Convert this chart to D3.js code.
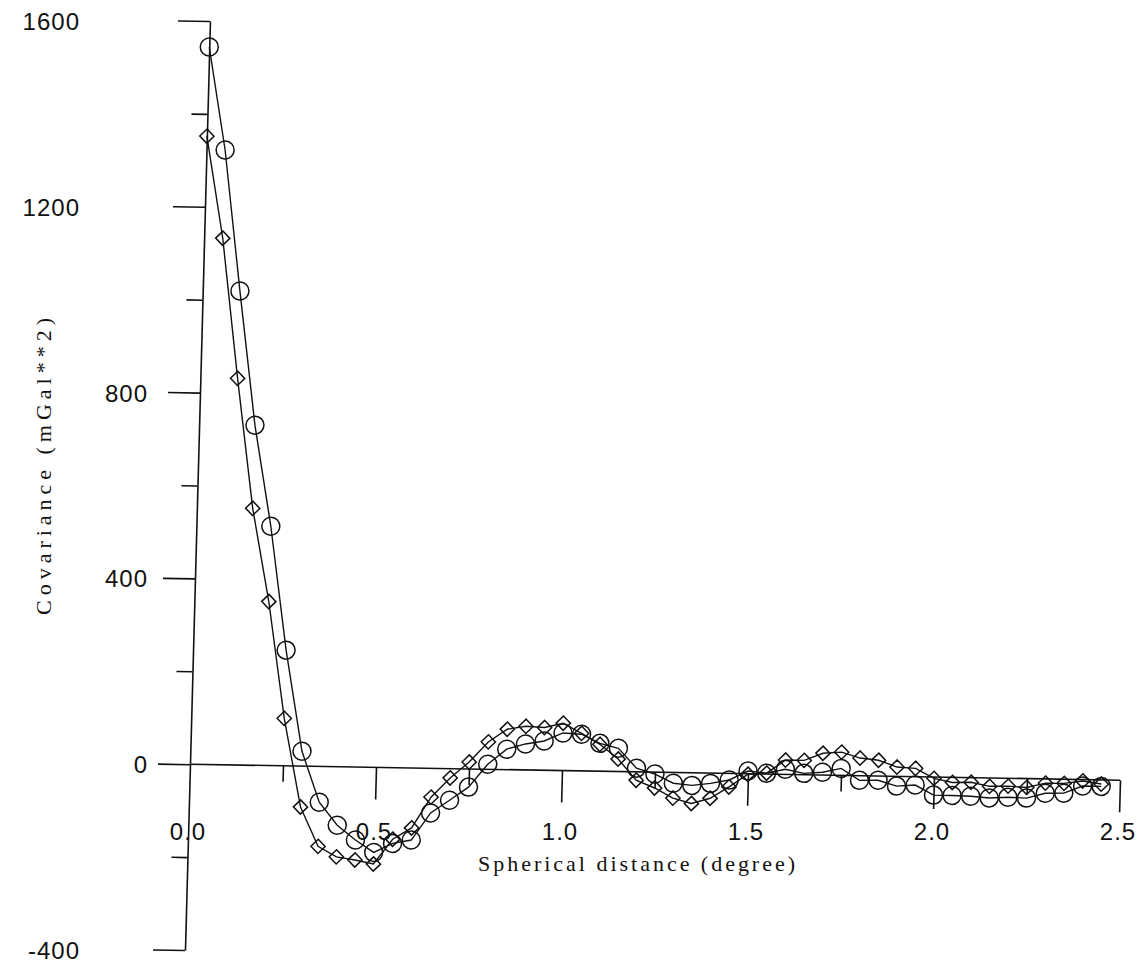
<!DOCTYPE html>
<html>
<head>
<meta charset="utf-8">
<script src="https://cdn.jsdelivr.net/npm/d3@7"></script>
<style>
  body { margin: 0; background: #fff; }
  .tick-label { font-family: "Liberation Sans", Arial, sans-serif; font-size: 24px; letter-spacing: 1px; fill: #111; }
  .title { font-family: "Liberation Serif", "Times New Roman", serif; font-size: 22px; fill: #111; }
</style>
</head>
<body>
<div id="chart"></div>
<script>
// spherical distance (degree)
var distance = [0.00, 0.05, 0.10, 0.15, 0.20, 0.25, 0.30, 0.35, 0.40, 0.45,
                0.50, 0.55, 0.60, 0.65, 0.70, 0.75, 0.80, 0.85, 0.90, 0.95,
                1.00, 1.05, 1.10, 1.15, 1.20, 1.25, 1.30, 1.35, 1.40, 1.45,
                1.50, 1.55, 1.60, 1.65, 1.70, 1.75, 1.80, 1.85, 1.90, 1.95,
                2.00, 2.05, 2.10, 2.15, 2.20, 2.25, 2.30, 2.35, 2.40, 2.45];

// circles
var covCircle = [1544, 1323, 1020, 732, 515, 249, 32, -77, -126, -157,
                 -183, -163, -155, -96, -68, -39, 11, 44, 56, 63,
                 81, 79, 60, 50, 8, -4, -23, -27, -22, -14,
                 6, 2, 11, 3, 6, 15, -10, -9, -21, -18,
                 -39, -39, -40, -43, -41, -42, -31, -30, -14, -14];

// diamonds
var covDiamond = [1352, 1133, 832, 553, 353, 102, -88, -172, -194, -200,
                  -208, -154, -129, -62, -20, 15, 59, 87, 94, 92,
                  102, 81, 58, 27, -18, -34, -55, -66, -54, -29,
                  -1, 2, 31, 31, 47, 50, 38, 34, 20, 18,
                  -3, -11, -10, -18, -17, -19, -9, -9, -3, -9];

var xMajor = [0.5, 1.0, 1.5, 2.0, 2.5];
var xMinor = [0.25, 0.75, 1.25, 1.75, 2.25];
var xLabels = [0.0, 0.5, 1.0, 1.5, 2.0, 2.5];
var yMajor = [-400, 0, 400, 800, 1200, 1600];
var yMinor = [-200, 200, 600, 1000, 1400];

var W = 1143, H = 977;
// the scanned plot is slightly skewed
var m = {a: 1, b: 0.0172, c: -0.0269, d: 1, e: 190, f: 764};
function project(u, v) {
    return [m.a * u + m.c * v + m.e, m.b * u + m.d * v + m.f];
}

var svg = d3.select("#chart").append("svg")
    .attr("width", W)
    .attr("height", H);
svg.append("rect").attr("width", W).attr("height", H).attr("fill", "#fff");

var x = d3.scaleLinear().domain([0, 2.5]).range([0, 930]);
var y = d3.scaleLinear().domain([-400, 1600]).range([186, -743]);

var g = svg.append("g")
    .attr("transform", "matrix(" + [m.a, m.b, m.c, m.d, m.e, m.f].join(",") + ")");

// zero line
g.append("line")
    .attr("x1", x(0)).attr("x2", x(2.5))
    .attr("y1", y(0)).attr("y2", y(0))
    .attr("stroke", "#111").attr("stroke-width", 1.6);

// x ticks (hang below the zero line)
g.append("g").attr("transform", "translate(0," + y(0) + ")")
    .call(d3.axisBottom(x).tickValues(xMajor).tickSize(32).tickSizeOuter(0).tickFormat(""))
    .call(function (s) { s.select(".domain").remove(); });
g.append("g").attr("transform", "translate(0," + y(0) + ")")
    .call(d3.axisBottom(x).tickValues(xMinor).tickSize(16).tickSizeOuter(0).tickFormat(""))
    .call(function (s) { s.select(".domain").remove(); });

// y axis
g.append("g")
    .call(d3.axisLeft(y).tickValues(yMajor).tickSize(32).tickSizeOuter(0).tickFormat(""));
g.append("g")
    .call(d3.axisLeft(y).tickValues(yMinor).tickSize(16).tickSizeOuter(0).tickFormat(""))
    .call(function (s) { s.select(".domain").remove(); });

g.selectAll(".tick line, .domain").attr("stroke", "#111").attr("stroke-width", 1.6);

// series
var line = d3.line()
    .x(function (d) { return x(d[0]); })
    .y(function (d) { return y(d[1]); });

var circData = distance.map(function (d, i) { return [d, covCircle[i]]; });
var diamData = distance.map(function (d, i) { return [d, covDiamond[i]]; });

g.append("path").datum(circData).attr("d", line)
    .attr("fill", "none").attr("stroke", "#111").attr("stroke-width", 1.4);
g.append("path").datum(diamData).attr("d", line)
    .attr("fill", "none").attr("stroke", "#111").attr("stroke-width", 1.4);

g.selectAll(".circ").data(circData).enter().append("circle")
    .attr("class", "circ")
    .attr("cx", function (d) { return x(d[0]); })
    .attr("cy", function (d) { return y(d[1]); })
    .attr("r", 9)
    .attr("fill", "none").attr("stroke", "#111").attr("stroke-width", 1.5);

var diamond = d3.symbol().type(d3.symbolDiamond2).size(130);
g.selectAll(".diam").data(diamData).enter().append("path")
    .attr("class", "diam")
    .attr("d", diamond)
    .attr("transform", function (d) { return "translate(" + x(d[0]) + "," + y(d[1]) + ")"; })
    .attr("fill", "none").attr("stroke", "#111").attr("stroke-width", 1.5);

// tick labels sit level on the page
svg.selectAll(".xl").data(xLabels).enter().append("text")
    .attr("class", "tick-label")
    .attr("x", function (d) { return project(x(d), 0)[0] - 2; })
    .attr("y", 840)
    .attr("text-anchor", "middle")
    .text(function (d) { return d.toFixed(1); });

// the original puts 800, 400 and 0 closer to the axis
svg.selectAll(".yl").data(yMajor).enter().append("text")
    .attr("class", "tick-label")
    .attr("x", function (d) { return (d >= 0 && d <= 800) ? 148 : 80; })
    .attr("y", function (d) { return project(0, y(d))[1] + 9; })
    .attr("text-anchor", "end")
    .text(function (d) { return d; });

// titles
svg.append("text")
    .attr("class", "title")
    .attr("x", 478).attr("y", 871)
    .attr("textLength", 317).attr("lengthAdjust", "spacing")
    .text("Spherical distance (degree)");

svg.append("text")
    .attr("class", "title")
    .attr("transform", "translate(51,615) rotate(-90)")
    .attr("textLength", 297).attr("lengthAdjust", "spacing")
    .text("Covariance (mGal**2)");
</script>
</body>
</html>
